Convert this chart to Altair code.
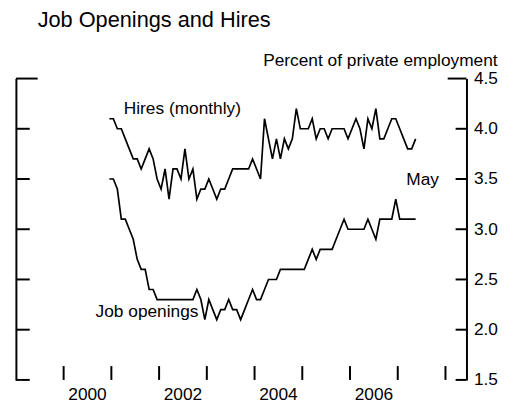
import altair as alt
import pandas as pd

# ---- data (monthly, Dec 2000 - May 2007), percent of private employment ----
months = [str(p) for p in pd.period_range("2000-12", "2007-05", freq="M")]
hires = [4.1, 4.1, 4.0, 4.0, 3.9, 3.8, 3.7, 3.7, 3.6, 3.7, 3.8, 3.7,
         3.5, 3.4, 3.6, 3.3, 3.6, 3.6, 3.5, 3.8, 3.5, 3.6, 3.3, 3.4,
         3.4, 3.5, 3.4, 3.3, 3.4, 3.4, 3.5, 3.6, 3.6, 3.6, 3.6, 3.6,
         3.7, 3.6, 3.5, 4.1, 3.9, 3.7, 3.9, 3.7, 3.9, 3.8, 3.9, 4.2,
         4.0, 4.0, 4.0, 4.1, 3.9, 4.0, 4.0, 3.9, 4.0, 4.0, 4.0, 4.0,
         3.9, 4.0, 4.1, 4.0, 3.8, 4.1, 4.0, 4.2, 3.9, 3.9, 4.0, 4.1,
         4.1, 4.0, 3.9, 3.8, 3.8, 3.9]
openings = [3.5, 3.5, 3.4, 3.1, 3.1, 3.0, 2.9, 2.7, 2.6, 2.6, 2.4, 2.4,
            2.3, 2.3, 2.3, 2.3, 2.3, 2.3, 2.3, 2.3, 2.3, 2.3, 2.4, 2.3,
            2.1, 2.3, 2.2, 2.1, 2.2, 2.2, 2.3, 2.2, 2.2, 2.1, 2.2, 2.3,
            2.4, 2.3, 2.3, 2.4, 2.5, 2.5, 2.5, 2.6, 2.6, 2.6, 2.6, 2.6,
            2.6, 2.6, 2.7, 2.8, 2.7, 2.8, 2.8, 2.8, 2.8, 2.9, 3.0, 3.1,
            3.0, 3.0, 3.0, 3.0, 3.0, 3.1, 3.0, 2.9, 3.1, 3.1, 3.1, 3.1,
            3.3, 3.1, 3.1, 3.1, 3.1, 3.1]

y_ticks = [1.5, 2.0, 2.5, 3.0, 3.5, 4.0, 4.5]
year_ticks = [2000, 2001, 2002, 2003, 2004, 2005, 2006, 2007, 2008]
label_years = [2000, 2002, 2004, 2006]

title_text = "Job Openings and Hires"
subtitle_text = "Percent of private employment"
ann_text = ["Hires (monthly)", "Job openings", "May"]
ann_x = [2001.26, 2000.67, 2007.18]
ann_y = [4.15, 2.125, 3.445]

FONT = "Liberation Sans"
FS = 17.5
W, H = 456, 305

# ---- tables ----
def dec_year(m):
    y, mo = m.split("-")
    return int(y) + (int(mo) - 0.5) / 12

xs = [dec_year(m) for m in months]
df = pd.DataFrame({
    "x": xs + xs,
    "v": hires + openings,
    "s": ["Hires"] * len(hires) + ["Job openings"] * len(openings),
})
ytick_df = pd.DataFrame({"v": y_ticks})
xtick_df = pd.DataFrame({"yr": year_ticks})
xlab_df = pd.DataFrame({"yr": label_years})
ann_df = pd.DataFrame({"x": ann_x, "v": ann_y, "t": ann_text})
title_df = pd.DataFrame({"t": [title_text]})

xscale = alt.Scale(domain=[1999, 2008.44], nice=False, zero=False)
yscale = alt.Scale(domain=[1.5, 4.5], nice=False, zero=False)

lines = alt.Chart(df).mark_line(color="black", strokeWidth=1.7).encode(
    x=alt.X("x:Q", scale=xscale, axis=alt.Axis(
        labels=False, ticks=False, tickSize=0,
        domain=True, domainColor="black", domainWidth=2,
        grid=False, title=None)),
    y=alt.Y("v:Q", scale=yscale, axis=alt.Axis(
        orient="right", values=y_ticks, format=".1f",
        ticks=False, tickSize=0, labelPadding=7,
        labelFontSize=FS, labelFont=FONT, labelColor="black",
        domain=True, domainColor="black", domainWidth=2, grid=False,
        title=subtitle_text, titleAngle=0, titleAlign="right",
        titleBaseline="alphabetic", titleX=31, titleY=-13,
        titleFontSize=FS, titleFont=FONT, titleFontWeight="normal",
        titleColor="black")),
    detail="s:N",
)

tick_rule = alt.Chart(ytick_df).mark_rule(color="black", strokeWidth=2)

left_ticks = tick_rule.encode(
    y=alt.Y("v:Q", scale=yscale, axis=alt.Axis(
        orient="left", labels=False, ticks=False, domain=True,
        domainColor="black", domainWidth=2, grid=False, title=None)),
    x=alt.value(0), x2=alt.value(14),
).transform_filter("datum.v < 4.5")
left_top = tick_rule.encode(
    y=alt.Y("v:Q", scale=yscale, axis=None),
    x=alt.value(0), x2=alt.value(22),
).transform_filter("datum.v == 4.5")
right_ticks = tick_rule.encode(
    y=alt.Y("v:Q", scale=yscale, axis=None),
    x=alt.value(W - 11), x2=alt.value(W),
).transform_filter("datum.v < 4.5")
right_top = tick_rule.encode(
    y=alt.Y("v:Q", scale=yscale, axis=None),
    x=alt.value(W - 19), x2=alt.value(W),
).transform_filter("datum.v == 4.5")

bottom_ticks = alt.Chart(xtick_df).mark_rule(color="black", strokeWidth=2).encode(
    x=alt.X("yr:Q", scale=xscale, axis=None),
    y=alt.value(H - 14), y2=alt.value(H),
)

year_labels = alt.Chart(xlab_df).transform_calculate(
    mid="datum.yr + 0.5"
).mark_text(
    align="center", baseline="alphabetic", fontSize=FS, font=FONT, color="black"
).encode(
    x=alt.X("mid:Q", scale=xscale, axis=None),
    y=alt.value(H + 20),
    text=alt.Text("yr:Q", format="d"),
)

ann = alt.Chart(ann_df).mark_text(
    align="left", baseline="alphabetic", fontSize=FS, font=FONT, color="black"
).encode(
    x=alt.X("x:Q", scale=xscale, axis=None),
    y=alt.Y("v:Q", scale=yscale, axis=None),
    text="t:N",
)

title = alt.Chart(title_df).mark_text(
    align="left", baseline="alphabetic", fontSize=22, font=FONT, color="black"
).encode(x=alt.value(22), y=alt.value(-52), text="t:N")

chart = alt.layer(
    lines, left_ticks, left_top, right_ticks, right_top, bottom_ticks,
    year_labels, ann, title
).resolve_axis(y="independent").properties(
    width=W, height=H,
    padding={"left": 8, "top": 69, "right": 40, "bottom": 25},
    autosize=alt.AutoSizeParams(type="none"),
).configure_view(stroke=None)

chart.save("out.html", embed_options={"renderer": "svg", "actions": False})
